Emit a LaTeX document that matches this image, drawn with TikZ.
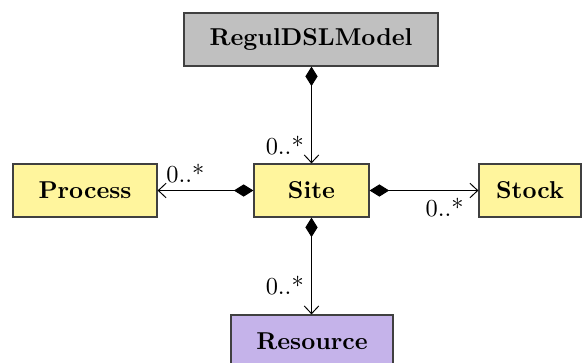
\documentclass[tikz,border=0pt]{standalone}
\usetikzlibrary{arrows.meta}
\definecolor{boxgray}{HTML}{C0C0C0}
\definecolor{boxyellow}{HTML}{FFF59D}
\definecolor{boxpurple}{HTML}{C5B3EA}
\definecolor{boxline}{HTML}{404040}
\tikzset{
  cls/.style={draw=boxline, line width=0.5pt, minimum height=53*0.41pt, inner sep=0pt, font=\bfseries},
  comp/.style={line width=0.4pt, {Diamond[length=8pt,width=5pt]}-{Straight Barb[length=3.2pt,width=6pt]}},
  mult/.style={font=\normalsize, inner sep=1pt},
}
\begin{document}
\begin{tikzpicture}[x=0.41pt, y=-0.41pt]
\useasboundingbox (0,0) rectangle (586,362);
\node[cls, fill=boxgray, minimum width=254*0.41pt] (model) at (311,39.5) {RegulDSLModel};
\node[cls, fill=boxyellow, minimum width=115*0.41pt] (site) at (311.5,190.5) {Site};
\node[cls, fill=boxyellow, minimum width=144*0.41pt] (process) at (85,190.5) {Process};
\node[cls, fill=boxyellow, minimum width=102*0.41pt] (stock) at (530,190.5) {Stock};
\node[cls, fill=boxpurple, minimum width=162*0.41pt] (resource) at (312,341.5) {Resource};
\draw[comp] (model.south -| site.north) -- node[mult, pos=0.82, left=2pt] {0..*} (site.north);
\draw[comp] (site.west) -- node[mult, pos=0.71, above=2pt] {0..*} (process.east);
\draw[comp] (site.east) -- node[mult, pos=0.69, below=2pt] {0..*} (stock.west);
\draw[comp] (site.south) -- node[mult, pos=0.70, left=2pt] {0..*} (site.south |- resource.north);
\end{tikzpicture}
\end{document}
